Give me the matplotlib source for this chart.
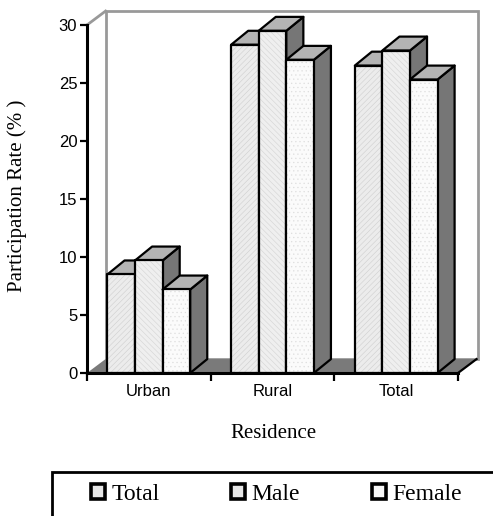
import matplotlib.pyplot as plt
from matplotlib.patches import Polygon, Rectangle, Patch
from matplotlib.lines import Line2D

# Participation rate by residence and sex
categories = ['Urban', 'Rural', 'Total']
total = [8.5, 28.3, 26.5]
male = [9.7, 29.5, 27.8]
female = [7.2, 27.0, 25.3]
series_names = ['Total', 'Male', 'Female']
yticks = [0, 5, 10, 15, 20, 25, 30]

plt.rcParams['hatch.linewidth'] = 0.4

W, H = 493, 516
fig = plt.figure(figsize=(W / 100, H / 100), dpi=100)
ax = fig.add_axes([87 / W, (H - 373) / H, 371 / W, 348 / H])
ax.set_xlim(0, 3)
ax.set_ylim(0, 30)
for s in ax.spines.values():
    s.set_visible(False)

# 3-D look: depth offsets in data units
dx, dy = 0.138, 1.2
wdx = 0.15
bar_w = 0.223

# back wall, left wall edge and floor
ax.add_patch(Rectangle((wdx, dy), 3.01, 30, facecolor='white', edgecolor='#999999',
                       lw=2, zorder=1, clip_on=False))
ax.add_line(Line2D([0, wdx], [30, 30 + dy], color='#999999', lw=2, zorder=1, clip_on=False))
ax.add_patch(Polygon([(0, 0), (3, 0), (3 + wdx, dy), (wdx, dy)], closed=True,
                     facecolor='#7a7a7a', edgecolor='none', zorder=2, clip_on=False))
ax.add_line(Line2D([3, 3 + wdx], [0, dy], color='black', lw=1.6, zorder=2, clip_on=False))

front_styles = [
    dict(facecolor='#ececec', edgecolor='#cfcfcf', hatch='//////'),
    dict(facecolor='#efefef', edgecolor='#d4d4d4', hatch='\\\\\\\\\\\\'),
    dict(facecolor='#fbfbfb', edgecolor='#dedede', hatch='....'),
]


def bar3d(x0, h, style, z):
    x1 = x0 + bar_w
    side = [(x1, 0), (x1 + dx, dy), (x1 + dx, h + dy), (x1, h)]
    top = [(x0, h), (x1, h), (x1 + dx, h + dy), (x0 + dx, h + dy)]
    front = [(x0, 0), (x1, 0), (x1, h), (x0, h)]
    ax.add_patch(Polygon(side, closed=True, facecolor='#767676', edgecolor='black',
                         lw=1.6, joinstyle='round', zorder=z, clip_on=False))
    ax.add_patch(Polygon(top, closed=True, facecolor='#b4b4b4', edgecolor='black',
                         lw=1.6, joinstyle='round', zorder=z, clip_on=False))
    ax.add_patch(Polygon(front, closed=True, lw=0, zorder=z, clip_on=False, **style))
    ax.add_patch(Polygon(front, closed=True, fill=False, edgecolor='black',
                         lw=1.6, joinstyle='round', zorder=z, clip_on=False))


z = 3
for i in range(len(categories)):
    start = i + 0.5 - 1.5 * bar_w
    for j, vals in enumerate([total, male, female]):
        bar3d(start + j * bar_w, vals[i], front_styles[j], z)
        z += 1

# axes lines
ax.add_line(Line2D([0, 0], [0, 30], color='black', lw=2.2, zorder=20, clip_on=False))
ax.add_line(Line2D([0, 3], [0, 0], color='black', lw=2.2, zorder=20, clip_on=False))

ax.set_yticks(yticks)
ax.set_yticklabels([str(t) for t in yticks], fontfamily='Liberation Sans', fontsize=12)
ax.set_xticks([0, 1, 2, 3])
ax.set_xticklabels([])
ax.set_xticks([0.5, 1.5, 2.5], categories, minor=True,
              fontfamily='Liberation Sans', fontsize=12)
ax.tick_params(axis='y', length=5, width=1.6, direction='out', pad=2)
ax.tick_params(axis='x', which='major', length=6, width=1.6, direction='out')
ax.tick_params(axis='x', which='minor', length=0, pad=8)

fig.text(17 / W, 1 - 196 / H, 'Participation Rate (% )', rotation=90, ha='center',
         va='center', fontfamily='Liberation Serif', fontsize=15)
fig.text(273 / W, 1 - 433 / H, 'Residence', ha='center', va='center',
         fontfamily='Liberation Serif', fontsize=15)

# legend box, open to the right and bottom
fig.add_artist(Rectangle((52 / W, -0.1), 1.0, (H - 472) / H + 0.1,
                         transform=fig.transFigure, fill=False, edgecolor='black',
                         lw=2, clip_on=False))
handles = [Patch(facecolor=c, edgecolor='black', lw=2.6)
           for c in ['#e6e6e6', '#e6e6e6', '#f8f8f8']]
fig.legend(handles, series_names, loc='center left', bbox_to_anchor=(91 / W, (H - 494) / H),
           ncol=3, frameon=False, borderpad=0, borderaxespad=0, handlelength=0.6,
           handleheight=0.6, handletextpad=0.25, columnspacing=3.05,
           prop={'family': 'Liberation Serif', 'size': 17})

fig.savefig('out.png', dpi=100)
